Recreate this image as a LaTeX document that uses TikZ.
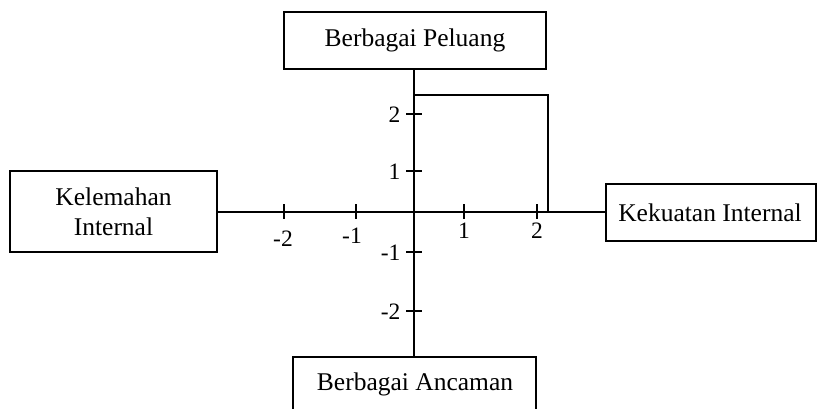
\documentclass[tikz,border=0pt]{standalone}
\usepackage{fontspec}
\setmainfont{Liberation Serif}
\begin{document}
\begin{tikzpicture}[x=1pt,y=-1pt,
  line width=1.3pt,
  box/.style={draw,line width=1.3pt,inner sep=0pt,align=center,font=\fontsize{25.5}{31}\selectfont},
  num/.style={inner sep=0pt,font=\fontsize{23.5}{26}\selectfont},
  tick/.style={line width=1.2pt}]
\useasboundingbox (0,0) rectangle (817,409);
\clip (0,0) rectangle (817,409);
% boxes
\node[box,minimum width=262pt,minimum height=57pt] (top) at (415,40.5) {Berbagai Peluang};
\node[box,minimum width=207pt,minimum height=81pt] (left) at (113.5,211.5) {Kelemahan\\[-1pt]Internal};
\node[box,minimum width=210pt,minimum height=57pt] (right) at (711,212.5) {\hspace*{-2pt}Kekuatan Internal};
\node[inner sep=0pt,font=\fontsize{25.5}{31}\selectfont] (bot) at (415,384) {Berbagai Ancaman};
\draw (293,357) rectangle (536,430);
\coordinate (bottop) at (414,357);
% axes
\coordinate (O) at (414,212);
\draw (left.east |- O) -- (right.west |- O);
\draw (top.south -| O) -- (bottop);
% square
\coordinate (c1) at (414,95);
\coordinate (c2) at (548,212);
\draw (c1) -| (c2);
% horizontal ticks
\foreach \x/\lx/\l/\yy in {284/283/-2/239, 356/352/-1/236, 464/464/1/231, 537/537/2/231}{
  \draw[tick] (\x,204) -- (\x,219);
  \node[num] at (\lx,\yy) {\l};
}
% vertical ticks
\foreach \y/\l in {114/2, 171/1, 252/-1, 311/-2}{
  \draw[tick] (406,\y) -- (422,\y);
  \node[num,anchor=east] at (401,\y+1) {\l};
}
\end{tikzpicture}
\end{document}
